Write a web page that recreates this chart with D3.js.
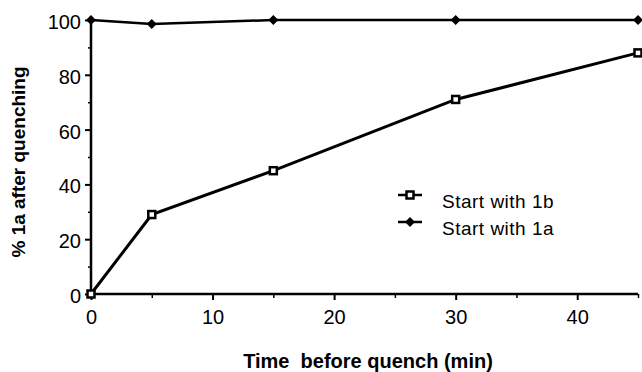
<!DOCTYPE html>
<html>
<head>
<meta charset="utf-8">
<script src="https://cdn.jsdelivr.net/npm/d3@7"></script>
<style>
  body { margin: 0; background: #fff; }
  svg { display: block; }
  .tick text { font-family: "Liberation Sans", Arial, sans-serif; font-size: 20px; fill: #000; }
</style>
</head>
<body>
<div id="chart"></div>
<script>
// times (min) and % 1a
const times = [0, 5, 15, 30, 45];
const startWith1b = [0, 29, 45, 71, 88];
const startWith1a = [100, 98.5, 100, 100, 100];
const xTicks = [0, 10, 20, 30, 40];
const xMinorTicks = [5, 15, 25, 35, 45];
const yTicks = [0, 20, 40, 60, 80, 100];
const yMinorTicks = [10, 30, 50, 70, 90];
const legendLabels = ['Start with 1b', 'Start with 1a'];

const width = 642;
const height = 372;

const svg = d3.select('#chart')
  .append('svg')
  .attr('width', width)
  .attr('height', height);

const x = d3.scaleLinear().domain([0, 45]).range([91, 638]);
const y = d3.scaleLinear().domain([0, 100]).range([294, 20]);

// minor ticks first, no labels
svg.append('g')
  .attr('transform', 'translate(91,0)')
  .call(d3.axisLeft(y).tickValues(yMinorTicks).tickSize(3).tickFormat(''))
  .call(g => g.select('.domain').remove())
  .call(g => g.selectAll('line').attr('stroke-width', 1.5));

svg.append('g')
  .attr('transform', 'translate(0,294)')
  .call(d3.axisBottom(x).tickValues(xMinorTicks).tickSize(4).tickFormat(''))
  .call(g => g.select('.domain').remove())
  .call(g => g.selectAll('line').attr('stroke-width', 1.5));

// y axis
svg.append('g')
  .attr('transform', 'translate(91,0)')
  .call(d3.axisLeft(y).tickValues(yTicks).tickSize(6).tickPadding(4))
  .call(g => g.select('.domain').attr('d', `M0,${y(100) - 2}V${y(0)}`).attr('stroke-width', 2.5))
  .call(g => g.selectAll('line').attr('stroke-width', 2))
  .call(g => g.selectAll('text').attr('dy', '0.42em'));

// x axis
svg.append('g')
  .attr('transform', 'translate(0,294)')
  .call(d3.axisBottom(x).tickValues(xTicks).tickSize(6).tickPadding(10))
  .call(g => g.select('.domain').attr('d', `M${x(0)},0H${x(45)}`).attr('stroke-width', 2.5))
  .call(g => g.selectAll('line').attr('stroke-width', 2));

// axis titles
svg.append('text')
  .attr('x', 368)
  .attr('y', 368)
  .attr('text-anchor', 'middle')
  .style('font-family', '"Liberation Sans", Arial, sans-serif')
  .style('font-weight', 'bold')
  .style('font-size', '20px')
  .style('white-space', 'pre')
  .text('Time  before quench (min)');

svg.append('text')
  .attr('transform', 'translate(25,162) rotate(-90)')
  .attr('text-anchor', 'middle')
  .style('font-family', '"Liberation Sans", Arial, sans-serif')
  .style('font-weight', 'bold')
  .style('font-size', '19px')
  .text('% 1a after quenching');

const line = d3.line()
  .x((d, i) => x(times[i]))
  .y(d => y(d));

// start with 1a: filled diamonds
svg.append('path')
  .datum(startWith1a)
  .attr('d', line)
  .attr('fill', 'none')
  .attr('stroke', '#000')
  .attr('stroke-width', 2.5);

const diamond = d3.symbol().type(d3.symbolDiamond2).size(64);

svg.selectAll('.m1a')
  .data(startWith1a)
  .enter()
  .append('path')
  .attr('class', 'm1a')
  .attr('d', diamond)
  .attr('transform', (d, i) => `translate(${x(times[i])},${y(d)})`)
  .attr('fill', '#000');

// start with 1b: open squares
svg.append('path')
  .datum(startWith1b)
  .attr('d', line)
  .attr('fill', 'none')
  .attr('stroke', '#000')
  .attr('stroke-width', 3);

svg.selectAll('.m1b')
  .data(startWith1b)
  .enter()
  .append('rect')
  .attr('class', 'm1b')
  .attr('x', (d, i) => x(times[i]) - 3.5)
  .attr('y', d => y(d) - 3.5)
  .attr('width', 7)
  .attr('height', 7)
  .attr('fill', '#fff')
  .attr('stroke', '#000')
  .attr('stroke-width', 2.5);

// legend
const legend = svg.append('g').attr('transform', 'translate(398,0)');
const legendY = [195, 222];

legendLabels.forEach((label, i) => {
  const g = legend.append('g').attr('transform', `translate(0,${legendY[i]})`);
  g.append('line')
    .attr('x1', 0).attr('x2', 24)
    .attr('stroke', '#000')
    .attr('stroke-width', 2.5);
  if (i === 0) {
    g.append('rect')
      .attr('x', 8.5).attr('y', -3.5)
      .attr('width', 7).attr('height', 7)
      .attr('fill', '#fff')
      .attr('stroke', '#000')
      .attr('stroke-width', 2.5);
  } else {
    g.append('path')
      .attr('d', diamond)
      .attr('transform', 'translate(12,0)')
      .attr('fill', '#000');
  }
  g.append('text')
    .attr('x', 44)
    .attr('y', 13)
    .style('font-family', '"Liberation Sans", Arial, sans-serif')
    .style('font-size', '19px')
    .style('letter-spacing', '0.5px')
    .text(label);
});
</script>
</body>
</html>
